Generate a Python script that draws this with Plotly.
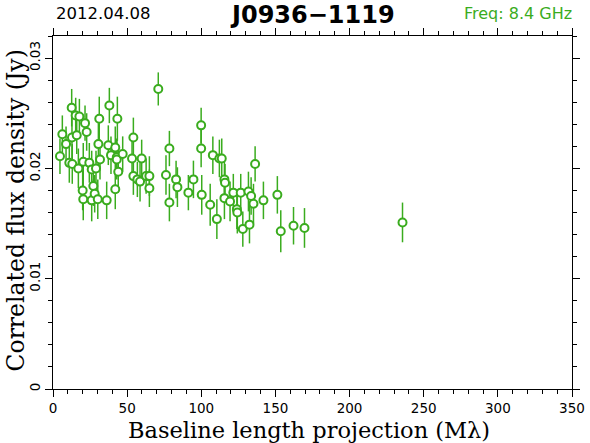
import plotly.graph_objects as go

baseline = [4.7, 6.3, 8.8, 11.0, 12.6, 12.8, 13.0, 15.3, 16.0, 17.1, 17.8, 20.0, 20.4, 20.4,
            21.6, 22.7, 24.5, 26.1, 26.1, 27.2, 28.1, 29.0, 30.2, 30.6, 31.2, 31.7, 36.2, 37.3,
            38.0, 39.1, 42.0, 42.0, 43.0, 43.0, 43.4, 44.0, 47.0, 53.3, 54.2, 54.2, 56.9, 58.7,
            59.8, 62.8, 65.0, 65.0, 71.0, 76.2, 78.5, 78.5, 83.0, 83.9, 91.3, 94.7, 99.9, 99.9,
            100.3, 106.0, 107.8, 110.5, 112.2, 113.8, 115.6, 116.0, 115.6, 119.4, 121.6, 124.0,
            124.3, 126.6, 128.0, 131.8, 132.5, 133.6, 135.2, 136.3, 141.9, 151.3, 153.6, 162.2,
            169.6, 235.7]
flux = [0.0211, 0.0231, 0.0222, 0.0205, 0.0255, 0.0228, 0.0204, 0.0248, 0.0230, 0.0200, 0.0247,
        0.0180, 0.0206, 0.0172, 0.0241, 0.0233, 0.0205, 0.0199, 0.0171, 0.0184, 0.0177, 0.0200,
        0.0172, 0.0222, 0.0245, 0.0208, 0.0171, 0.0221, 0.0257, 0.0212, 0.0219, 0.0181, 0.0210,
        0.0208, 0.0245, 0.0197, 0.0213, 0.0209, 0.0228, 0.0193, 0.0190, 0.0188, 0.0209, 0.0193,
        0.0193, 0.0182, 0.0272, 0.0194, 0.0218, 0.0169, 0.0190, 0.0183, 0.0178, 0.0190, 0.0239,
        0.0218, 0.0176, 0.0167, 0.0212, 0.0154, 0.0209, 0.0209, 0.0190, 0.0187, 0.0173, 0.0170,
        0.0178, 0.0163, 0.0160, 0.0178, 0.0145, 0.0179, 0.0149, 0.0175, 0.0168, 0.0204, 0.0171,
        0.0176, 0.0143, 0.0148, 0.0146, 0.0151]
flux_err = [0.0016, 0.0017, 0.0016, 0.0018, 0.0017, 0.0019, 0.0018, 0.0016, 0.0017, 0.0018, 0.0016,
            0.0018, 0.0017, 0.0019, 0.0016, 0.0017, 0.0018, 0.0017, 0.0019, 0.0018, 0.0017, 0.0016,
            0.0018, 0.0019, 0.0020, 0.0018, 0.0017, 0.0018, 0.0016, 0.0017, 0.0019, 0.0018, 0.0017,
            0.0018, 0.0020, 0.0019, 0.0016, 0.0017, 0.0018, 0.0017, 0.0016, 0.0018, 0.0017, 0.0016,
            0.0018, 0.0017, 0.0015, 0.0018, 0.0016, 0.0017, 0.0017, 0.0018, 0.0016, 0.0017, 0.0016,
            0.0017, 0.0018, 0.0019, 0.0017, 0.0018, 0.0017, 0.0018, 0.0016, 0.0017, 0.0019, 0.0018,
            0.0017, 0.0018, 0.0019, 0.0017, 0.0016, 0.0018, 0.0017, 0.0017, 0.0018, 0.0016, 0.0017,
            0.0017, 0.0019, 0.0017, 0.0018, 0.0018]

date_text = "2012.04.08"
source_name = "J0936\u22121119"
freq_text = "Freq: 8.4 GHz"
x_title = "Baseline length projection (M\u03bb)"
y_title = "Correlated flux density (Jy)"
x_ticks = [0, 50, 100, 150, 200, 250, 300, 350]
y_ticks = [0, 0.01, 0.02, 0.03]

green = "rgb(58,172,30)"
serif = "DejaVu Serif, Liberation Serif, serif"
sans = "DejaVu Sans, Liberation Sans, sans-serif"

fig = go.Figure()
fig.add_trace(go.Scatter(
    x=baseline, y=flux, mode="markers",
    error_y=dict(type="data", array=flux_err, visible=True, color=green, thickness=1.5, width=0),
    marker=dict(symbol="circle", size=8, color="white", line=dict(color=green, width=2)),
    showlegend=False,
))

axis_common = dict(
    showline=True, linecolor="black", linewidth=1, mirror="allticks",
    ticks="outside", ticklen=7, tickwidth=1, tickcolor="black",
    showgrid=False, zeroline=False, automargin=False,
    tickfont=dict(family=sans, size=13.5, color="black"),
)

fig.update_xaxes(
    range=[0, 350], tickvals=x_ticks, ticktext=[str(v) for v in x_ticks],
    minor=dict(dtick=10, ticklen=4, tickcolor="black", ticks="outside", showgrid=False),
    **axis_common,
)
fig.update_yaxes(
    range=[0, 0.032], tickvals=y_ticks, ticktext=["0", "0.01", "0.02", "0.03"], tickangle=-90,
    minor=dict(dtick=0.002, ticklen=4, tickcolor="black", ticks="outside", showgrid=False),
    **axis_common,
)

# axis titles
fig.add_annotation(x=0.5, y=0.0, xref="paper", yref="paper", xanchor="center", yanchor="middle",
                   xshift=-4, yshift=-41, text=x_title, showarrow=False,
                   font=dict(family=serif, size=22.5, color="black"))
fig.add_annotation(x=0.0, y=0.5, xref="paper", yref="paper", xanchor="center", yanchor="middle",
                   xshift=-38, yshift=2, textangle=-90, text=y_title, showarrow=False,
                   font=dict(family=serif, size=23.5, color="black"))

# header texts
fig.add_annotation(x=0.0, y=1.0, xref="paper", yref="paper", yanchor="middle", yshift=23,
                   text=date_text, showarrow=False, xanchor="left", xshift=1,
                   font=dict(family=sans, size=16.5, color="black"))
fig.add_annotation(x=0.5, y=1.0, xref="paper", yref="paper", yanchor="middle", yshift=21,
                   text="<b>" + source_name + "</b>", showarrow=False, xanchor="center",
                   font=dict(family=sans, size=24, color="black"))
fig.add_annotation(x=1.0, y=1.0, xref="paper", yref="paper", yanchor="middle", yshift=23,
                   text=freq_text, showarrow=False, xanchor="right", xshift=2,
                   font=dict(family=sans, size=16, color=green))

fig.update_layout(
    width=590, height=443,
    margin=dict(l=53, r=18, t=36, b=54),
    paper_bgcolor="white", plot_bgcolor="white",
)

# remove the default 8px page margin so the figure fills the window exactly
fig.write_html("out.html", config={"displayModeBar": False},
               post_script="document.body.style.margin='0px';")
